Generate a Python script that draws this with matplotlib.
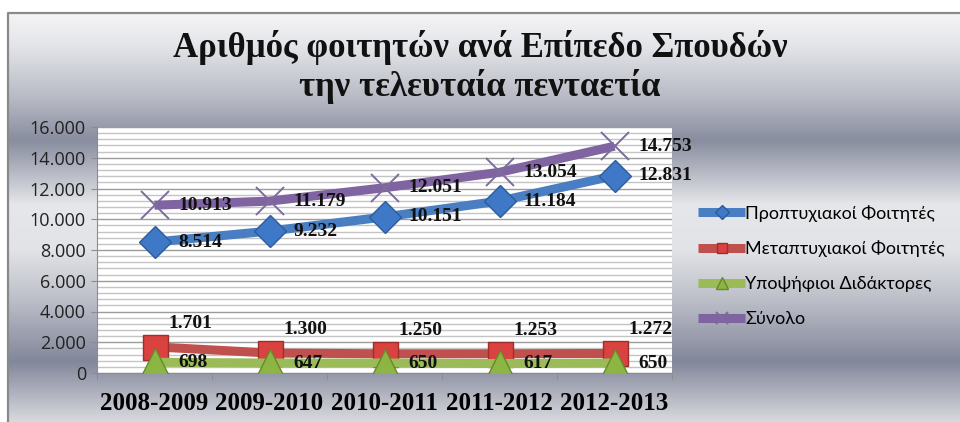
import numpy as np
import matplotlib
matplotlib.use("Agg")
import matplotlib.pyplot as plt
from matplotlib.colors import LinearSegmentedColormap
from matplotlib.ticker import MultipleLocator, FuncFormatter

# =====================================================
# =========              Data                 =========
# =====================================================

YEARS = ["2008-2009", "2009-2010", "2010-2011", "2011-2012", "2012-2013"]

UNDERGRAD = [8514, 9232, 10151, 11184, 12831]
POSTGRAD = [1701, 1300, 1250, 1253, 1272]
PHD = [698, 647, 650, 617, 650]
TOTAL = [10913, 11179, 12051, 13054, 14753]

SERIES_NAMES = [
    "Προπτυχιακοί Φοιτητές",
    "Μεταπτυχιακοί Φοιτητές",
    "Υποψήφιοι Διδάκτορες",
    "Σύνολο",
]

TITLE = "Αριθμός φοιτητών ανά Επίπεδο Σπουδών\nτην τελευταία πενταετία"

# =====================================================
# =========              Style                =========
# =====================================================

W, H, DPI = 960, 422, 100
SERIF = "Liberation Serif"
SANS = "Open Sans"

# vertical background gradient (pixel row, colour)
BG_STOPS = [
    (13, "#f4f4f6"), (45, "#e4e5e9"), (100, "#b5b8c2"), (140, "#888d9f"),
    (205, "#e6e7ea"), (250, "#e2e3e7"), (300, "#bcbfc8"), (362, "#82879a"),
    (422, "#d8d9de"),
]


def thousands(v, _pos=None):
    return f"{int(v):,}".replace(",", ".")


def draw_background(fig):
    bg = fig.add_axes([0, 0, 1, 1], zorder=-10)
    top = BG_STOPS[0][0]
    stops = [((y - top) / (H - top), c) for y, c in BG_STOPS]
    cmap = LinearSegmentedColormap.from_list("bg", stops)
    grad = np.linspace(0, 1, 256).reshape(-1, 1)
    bg.imshow(grad, cmap=cmap, aspect="auto", extent=(8, W, H, top))
    bg.plot([8, 8, W], [H, top, top], color="#8a8a8a", lw=1.6)
    bg.set_xlim(0, W)
    bg.set_ylim(H, 0)
    bg.axis("off")


def main():
    fig = plt.figure(figsize=(W / DPI, H / DPI), dpi=DPI)
    draw_background(fig)

    ax = fig.add_axes([97 / W, 1 - 373 / H, 575 / W, 246 / H])
    ax.set_facecolor("white")
    x = np.arange(len(YEARS))

    styles = [
        dict(color="#4a7ec2", marker="D", ms=16, mfc="#3f78c6", mec="#2b5c9c"),
        dict(color="#c0504d", marker="s", ms=18, mfc="#d9423f", mec="#9c2e2c"),
        dict(color="#9bbb59", marker="^", ms=20, mfc="#8cb544", mec="#66892c"),
        dict(color="#8064a2", marker="x", ms=20, mec="#7c6c9c", mew=1.4),
    ]
    data = [UNDERGRAD, POSTGRAD, PHD, TOTAL]

    for vals, name, st in zip(data, SERIES_NAMES, styles):
        ax.plot(x, vals, lw=6.5, label=name, solid_capstyle="butt", zorder=3, **st)

    # data labels
    lab = dict(fontsize=14, fontweight="bold", family=SERIF, color="#111111",
               textcoords="offset points", va="center", ha="left", zorder=5)
    for vals, off in [(UNDERGRAD, (17, 0)), (PHD, (17, 0)), (TOTAL, (17, 0)),
                      (POSTGRAD, (10, 17))]:
        for xi, v in zip(x, vals):
            ax.annotate(thousands(v), (xi, v), xytext=off, **lab)

    ax.set_xlim(-0.5, len(YEARS) - 0.5)
    ax.set_ylim(0, 16000)
    ax.yaxis.set_major_locator(MultipleLocator(2000))
    ax.yaxis.set_minor_locator(MultipleLocator(400))
    ax.yaxis.set_major_formatter(FuncFormatter(thousands))
    ax.grid(True, which="major", axis="y", color="#9c9c9c", lw=1.0, zorder=0)
    ax.grid(True, which="minor", axis="y", color="#c4c4c4", lw=1.0, zorder=0)
    ax.set_axisbelow(True)

    ax.set_xticks(x)
    ax.set_xticklabels(YEARS, fontsize=18, fontweight="bold", family=SERIF)
    ax.set_xticks(np.arange(-0.5, len(YEARS)), minor=True)
    ax.tick_params(axis="x", which="major", length=0, pad=14)
    ax.tick_params(axis="x", which="minor", length=5, color="#8c8c8c")
    ax.tick_params(axis="y", which="major", length=4, color="#8c8c8c",
                   labelsize=13, pad=4, labelcolor="#222222")
    ax.tick_params(axis="y", which="minor", length=0)
    for lbl in ax.get_yticklabels():
        lbl.set_family(SANS)
    for side in ("top", "right"):
        ax.spines[side].set_visible(False)
    for side in ("left", "bottom"):
        ax.spines[side].set_color("#8c8c8c")

    fig.text(0.5, 1 - 67 / H, TITLE, ha="center", va="center", fontsize=25,
             fontweight="bold", family=SERIF, linespacing=1.15, color="#111111")

    fig.legend(loc="center left", bbox_to_anchor=(682 / W, 1 - 266 / H),
               frameon=False, markerscale=0.42, handlelength=2.6,
               handletextpad=0.0, labelspacing=1.05,
               prop=dict(family="Lato", size=13))

    fig.savefig("out.png", dpi=DPI)
    plt.close(fig)


if __name__ == "__main__":
    main()
